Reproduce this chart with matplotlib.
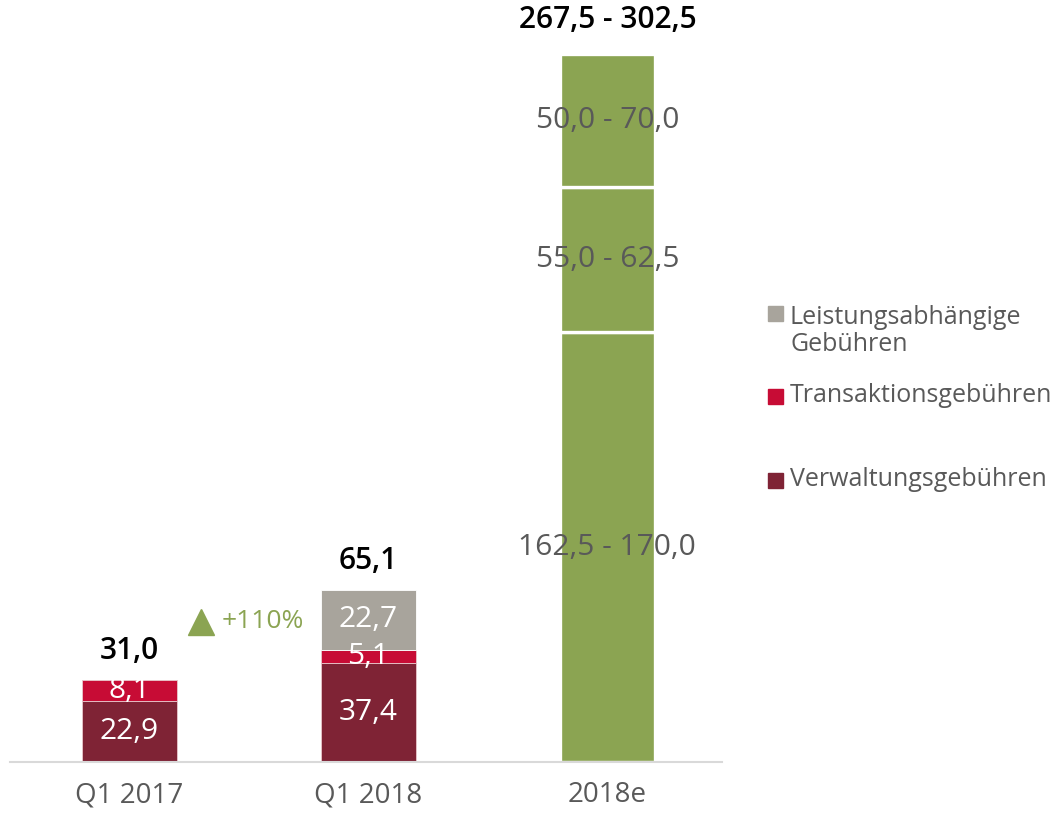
import numpy as np
import matplotlib.pyplot as plt
from matplotlib.patches import Rectangle

plt.rcParams['font.family'] = ['Open Sans', 'DejaVu Sans']

# Umsatzerlöse nach Gebührenart (Mio. EUR)
categories = ['Q1 2017', 'Q1 2018', '2018e']
verwaltung = [22.9, 37.4]
transaktion = [8.1, 5.1]
leistung = [0.0, 22.7]
totals = [31.0, 65.1]

# Prognose 2018e: Spannen je Gebührenart (unten -> oben)
forecast_low = [162.5, 55.0, 50.0]
forecast_high = [170.0, 62.5, 70.0]
forecast_total = [267.5, 302.5]

legend_labels = ['Leistungsabhängige\nGebühren', 'Transaktionsgebühren', 'Verwaltungsgebühren']

c_verw = '#7f2335'
c_trans = '#c70c35'
c_leist = '#a8a49c'
c_green = '#8ba452'
c_text = '#595959'

def fmt(v):
    return f'{v:.1f}'.replace('.', ',')

fig = plt.figure(figsize=(10.54, 8.17), dpi=100)
ax = fig.add_axes([10 / 1054, 55 / 817, 712 / 1054, 762 / 817])

x = np.arange(len(categories))
w = 0.4
hist = x[:2]
fs = 21.5

ax.bar(hist, verwaltung, w, color=c_verw, edgecolor='#e8c8cc', linewidth=0.6)
ax.bar(hist, transaktion, w, bottom=verwaltung, color=c_trans, edgecolor='#e8c8cc', linewidth=0.6)
b2 = np.array(verwaltung) + np.array(transaktion)
ax.bar(hist[1:], leistung[1:], w, bottom=b2[1:], color=c_leist, edgecolor='white', linewidth=0.6)

# segment labels (historical)
for i in range(2):
    ax.text(hist[i], verwaltung[i] / 2, fmt(verwaltung[i]), ha='center', va='center',
            color='white', fontsize=fs)
    ax.text(hist[i], verwaltung[i] + transaktion[i] / 2, fmt(transaktion[i]), ha='center',
            va='center', color='white', fontsize=fs)
    if leistung[i] > 0:
        ax.text(hist[i], b2[i] + leistung[i] / 2, fmt(leistung[i]), ha='center', va='center',
                color='white', fontsize=fs)
    top = b2[i] + leistung[i]
    ax.annotate(fmt(totals[i]), (hist[i], top), xytext=(0, 10), textcoords='offset points',
                ha='center', va='bottom', fontsize=fs, fontweight='semibold', color='black')

# forecast stack
bottom = 0.0
for lo, hi in zip(forecast_low, forecast_high):
    ax.bar(x[2], lo, w, bottom=bottom, color=c_green, edgecolor='white', linewidth=2.4)
    ax.text(x[2], bottom + lo / 2, f'{fmt(lo)} - {fmt(hi)}', ha='center', va='center',
            color=c_text, fontsize=fs)
    bottom += lo
ax.annotate(f'{fmt(forecast_total[0])} - {fmt(forecast_total[1])}', (x[2], bottom),
            xytext=(0, 14), textcoords='offset points', ha='center', va='bottom',
            fontsize=fs, fontweight='semibold', color='black')

# growth marker
growth = totals[1] / totals[0] - 1
ax.plot(0.30, 53, marker='^', markersize=19, color=c_green, clip_on=False)
ax.text(0.385, 53, f'+{growth * 100:.0f}%', ha='left', va='center', color=c_green, fontsize=19)

ax.set_xlim(-0.5, 2.48)
ax.set_ylim(0, 762 / 2.645)
ax.set_xticks(x)
ax.set_xticklabels(categories, fontsize=20, color=c_text)
ax.tick_params(axis='x', length=0, pad=14)
ax.set_yticks([])
for s in ['top', 'right', 'left']:
    ax.spines[s].set_visible(False)
ax.spines['bottom'].set_color('#d9d9d9')
ax.spines['bottom'].set_linewidth(1.5)

# legend, drawn by hand to match uneven spacing
leg_colors = [c_leist, c_trans, c_verw]
leg_y = [313, 396, 480]
text_y = [331, 396, 480]
for lab, col, yy, ty in zip(legend_labels, leg_colors, leg_y, text_y):
    fig.patches.append(Rectangle((768 / 1054, 1 - (yy + 8) / 817), 15 / 1054, 15 / 817,
                                 transform=fig.transFigure, color=col))
    fig.text(790 / 1054, 1 - ty / 817, lab, ha='left', va='center',
             fontsize=18, color=c_text, linespacing=1.15)

fig.savefig('out.png', dpi=100)
